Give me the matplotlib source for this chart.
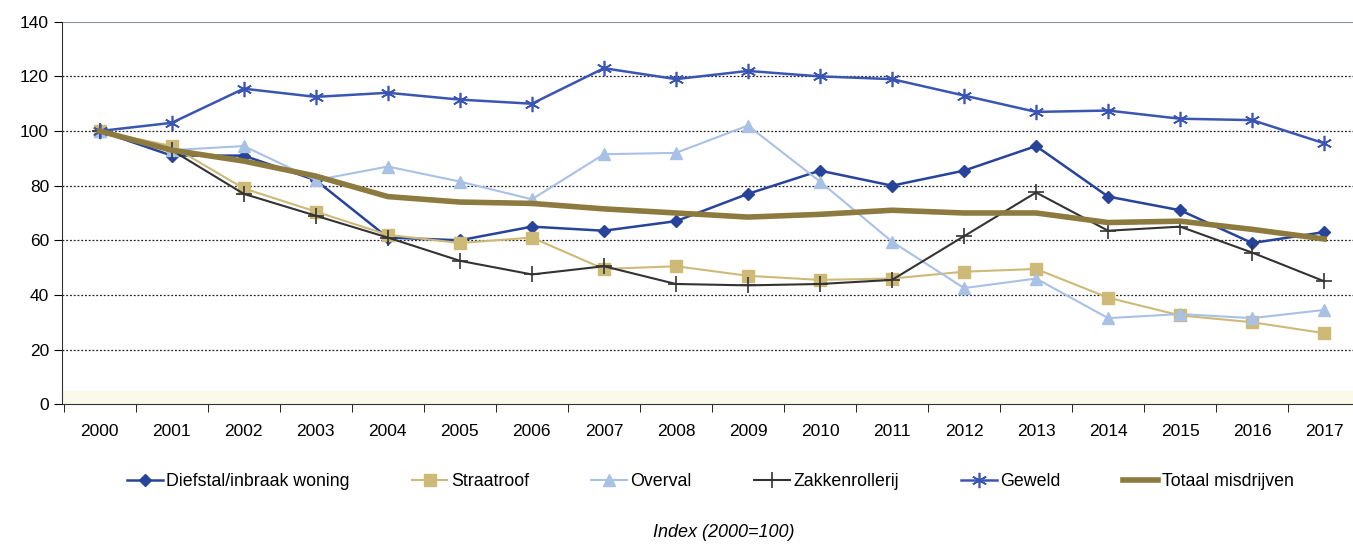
import numpy as np
import matplotlib.pyplot as plt
from matplotlib.ticker import FixedLocator

jaren = list(range(2000, 2018))

diefstal = [100, 91, 91, 82, 61, 60, 65, 63.5, 67, 77, 85.5, 80, 85.5, 94.5, 76, 71, 59, 63]
straatroof = [100, 94.5, 79, 70.5, 62, 59, 61, 49.5, 50.5, 47, 45.5, 46, 48.5, 49.5, 39, 32.5, 30, 26]
overval = [100, 93, 94.5, 82, 87, 81.5, 75, 91.5, 92, 102, 81.5, 59.5, 42.5, 46, 31.5, 33, 31.5, 34.5]
zakkenrollerij = [100, 93, 77, 69, 61, 52.5, 47.5, 50.5, 44, 43.5, 44, 45.5, 61.5, 77.5, 63.5, 65, 55.5, 45]
geweld = [100, 103, 115.5, 112.5, 114, 111.5, 110, 123, 119, 122, 120, 119, 113, 107, 107.5, 104.5, 104, 95.5]
totaal = [100, 93, 89, 83.5, 76, 74, 73.5, 71.5, 70, 68.5, 69.5, 71, 70, 70, 66.5, 67, 64, 60.5]

plt.rcParams['font.family'] = ['Liberation Sans', 'DejaVu Sans']

fig = plt.figure(figsize=(13.53, 5.44), dpi=100)
ax = fig.add_axes([0.046, 0.257, 0.954, 0.703])
x = np.arange(len(jaren))

ax.plot(x, diefstal, color='#27449a', lw=1.8, marker='D', ms=6.5, label='Diefstal/inbraak woning')
ax.plot(x, straatroof, color='#cdb978', lw=1.5, marker='s', ms=8.5, label='Straatroof')
ax.plot(x, overval, color='#a9c1e4', lw=1.5, marker='^', ms=8, label='Overval')
ax.plot(x, zakkenrollerij, color='#333333', lw=1.5, marker='+', ms=11, mew=1.2, label='Zakkenrollerij')
ax.plot(x, geweld, color='#3b56b2', lw=1.8, marker=(6, 2, 0), ms=11, mew=1.2, label='Geweld')
ax.plot(x, totaal, color='#8c7a3e', lw=4, label='Totaal misdrijven')

ax.set_xlim(-0.52, 17.4)
ax.set_ylim(0, 140)
ax.set_yticks(range(0, 141, 20))
ax.set_xticks(x)
ax.set_xticklabels([str(j) for j in jaren])
ax.xaxis.set_minor_locator(FixedLocator(np.arange(-0.5, 17.6, 1)))
ax.tick_params(axis='x', which='major', length=0, pad=14, labelsize=12.5)
ax.tick_params(axis='x', which='minor', length=6, direction='out')
ax.tick_params(axis='y', length=6, labelsize=12.5)

for v in range(20, 121, 20):
    ax.axhline(v, color='#222222', lw=0.9, ls=(0, (1.5, 1.5)), zorder=0)
ax.axhline(140, color='#8a8f99', lw=1.5, zorder=0)
ax.axhspan(0, 5, color='#fbfaea', zorder=0, lw=0)

for s in ['top', 'right']:
    ax.spines[s].set_visible(False)
ax.spines['left'].set_color('#333333')
ax.spines['bottom'].set_color('#333333')

fig.legend(loc='center', bbox_to_anchor=(0.525, 0.115), ncol=6, frameon=False,
           fontsize=12.8, handlelength=2.0, handletextpad=0.2, columnspacing=3.5)
fig.text(0.535, 0.006, 'Index (2000=100)', ha='center', va='bottom', fontsize=13, style='italic')

fig.savefig('out.png', dpi=100)
